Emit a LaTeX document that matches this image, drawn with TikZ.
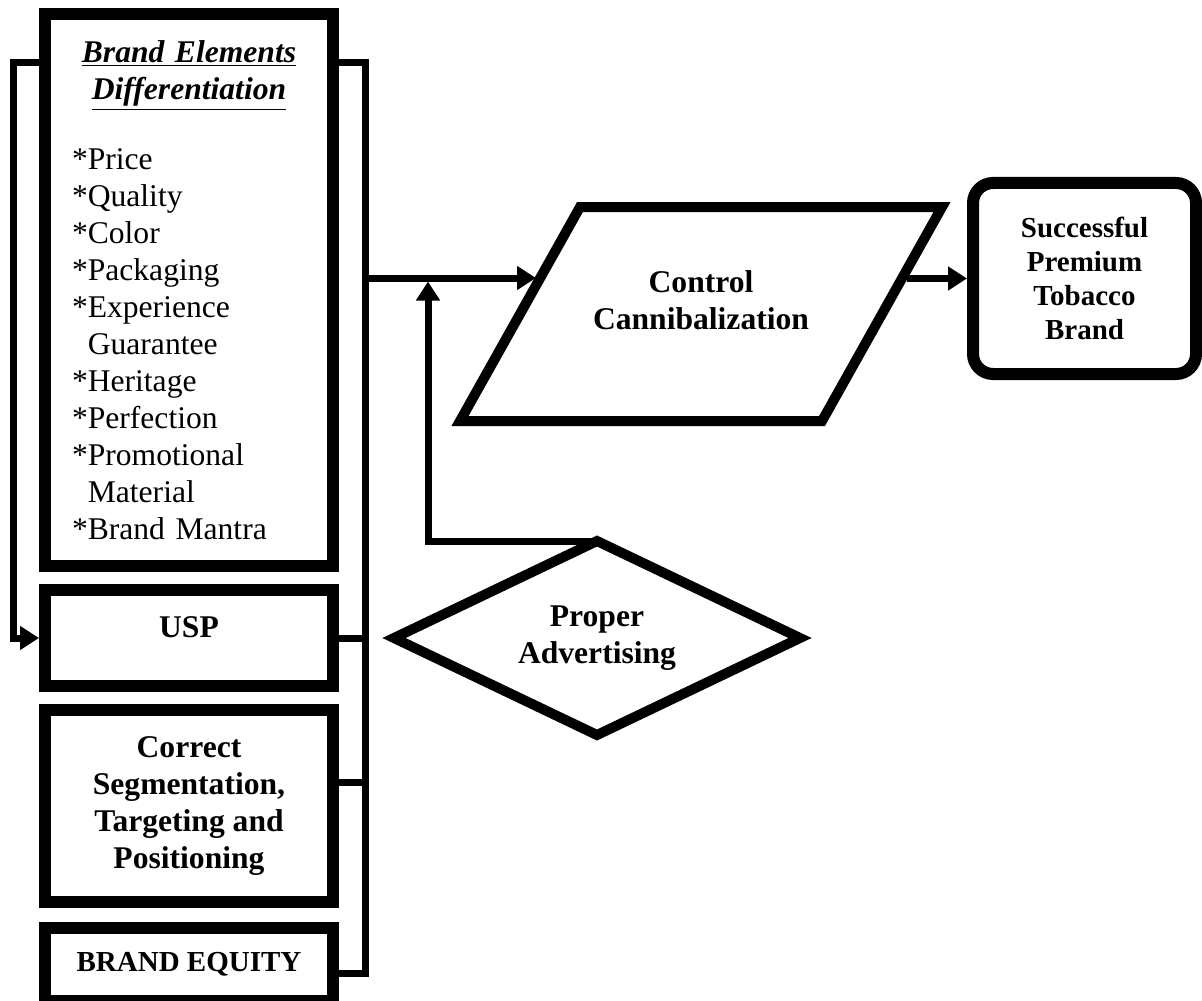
\documentclass[tikz,border=0pt]{standalone}
\usepackage{fontspec}
\setmainfont{Liberation Serif}
\usetikzlibrary{positioning,shapes.geometric,arrows.meta}

\begin{document}
\begin{tikzpicture}[x=0.5pt,y=-0.5pt,>={Triangle[length=9.5pt,width=11.5pt]},
    box node/.style={draw,line width=6pt,minimum width=144pt,inner sep=0pt,align=center,font=\bfseries\fontsize{15.8}{18.5}\selectfont},
    ctrl node/.style={align=center,font=\bfseries\fontsize{15.8}{18.5}\selectfont},
    adv node/.style={diamond,aspect=2.1,draw,line width=5pt,minimum width=203pt,minimum height=97pt,outer sep=0pt,align=center,font=\bfseries\fontsize{15.8}{18.5}\selectfont},
    brand node/.style={draw,rounded corners=10pt,line width=6pt,minimum width=111.5pt,minimum height=95.5pt,align=center,font=\bfseries\fontsize{14.5}{17}\selectfont},
    flow line/.style={line width=3.5pt}]
    \useasboundingbox (0,0) rectangle (1202,1000);

    \node[box node,minimum height=276pt,text width=117pt,align=left,font=\fontsize{15.8}{18.5}\selectfont] (elem) at (189,290)
        {{\centering\bfseries\itshape\underline{Brand Elements}\\\underline{Differentiation}\par}\vspace{16.35pt}
        *Price\\{}*Quality\\{}*Color\\{}*Packaging\\{}*Experience\\\phantom{*}Guarantee\\{}*Heritage\\{}*Perfection\\{}*Promotional\\\phantom{*}Material\\{}*Brand Mantra};
    \node[box node,minimum height=48pt,text height=10.5pt,text depth=11pt] (usp) [below=6pt of elem] {USP};
    \node[box node,minimum height=96pt] (stp) [below=6pt of usp] {Correct\\Segmentation,\\Targeting and\\Positioning};
    \node[box node,minimum height=36.5pt,font=\bfseries\fontsize{14.5}{17}\selectfont] (equity) [below=7pt of stp] {BRAND EQUITY};

    \draw[line width=5pt] (580,207) -- (942,207) -- (822,421) -- (460,421) -- cycle;
    \node[ctrl node] (ctrl) at (701,300) {Control\\Cannibalization};
    \node[adv node] (adv) at (597,638) {Proper\\Advertising};
    \node[brand node] (brand) at (1084.5,278.5) {Successful\\Premium\\Tobacco\\Brand};

    \coordinate (tap) at (365,63);
    \coordinate (loop) at (13,63);
    \coordinate (bus) at (365,278);
    \coordinate (railend) at (365,973);
    \coordinate (upend) at (428,281.5);
    \coordinate (ctrlin) at (536,278);
    \coordinate (ctrlout) at (907,278.5);
    \coordinate (stptap) at ([yshift=12pt]stp.east);

    \draw[flow line] (elem.east |- tap) -- (tap) -- (railend) -- (equity.east |- railend);
    \draw[flow line,->] (elem.west |- loop) -- (loop) |- (usp.west);
    \path[flow line]
        (usp.east) edge (usp.east -| bus)
        (stptap) edge (stptap -| bus)
        (bus) edge[->] (ctrlin)
        (ctrlout) edge[->] (brand.west)
        ;
    \draw[flow line,->] (adv.north) -| (upend);
\end{tikzpicture}
\end{document}
